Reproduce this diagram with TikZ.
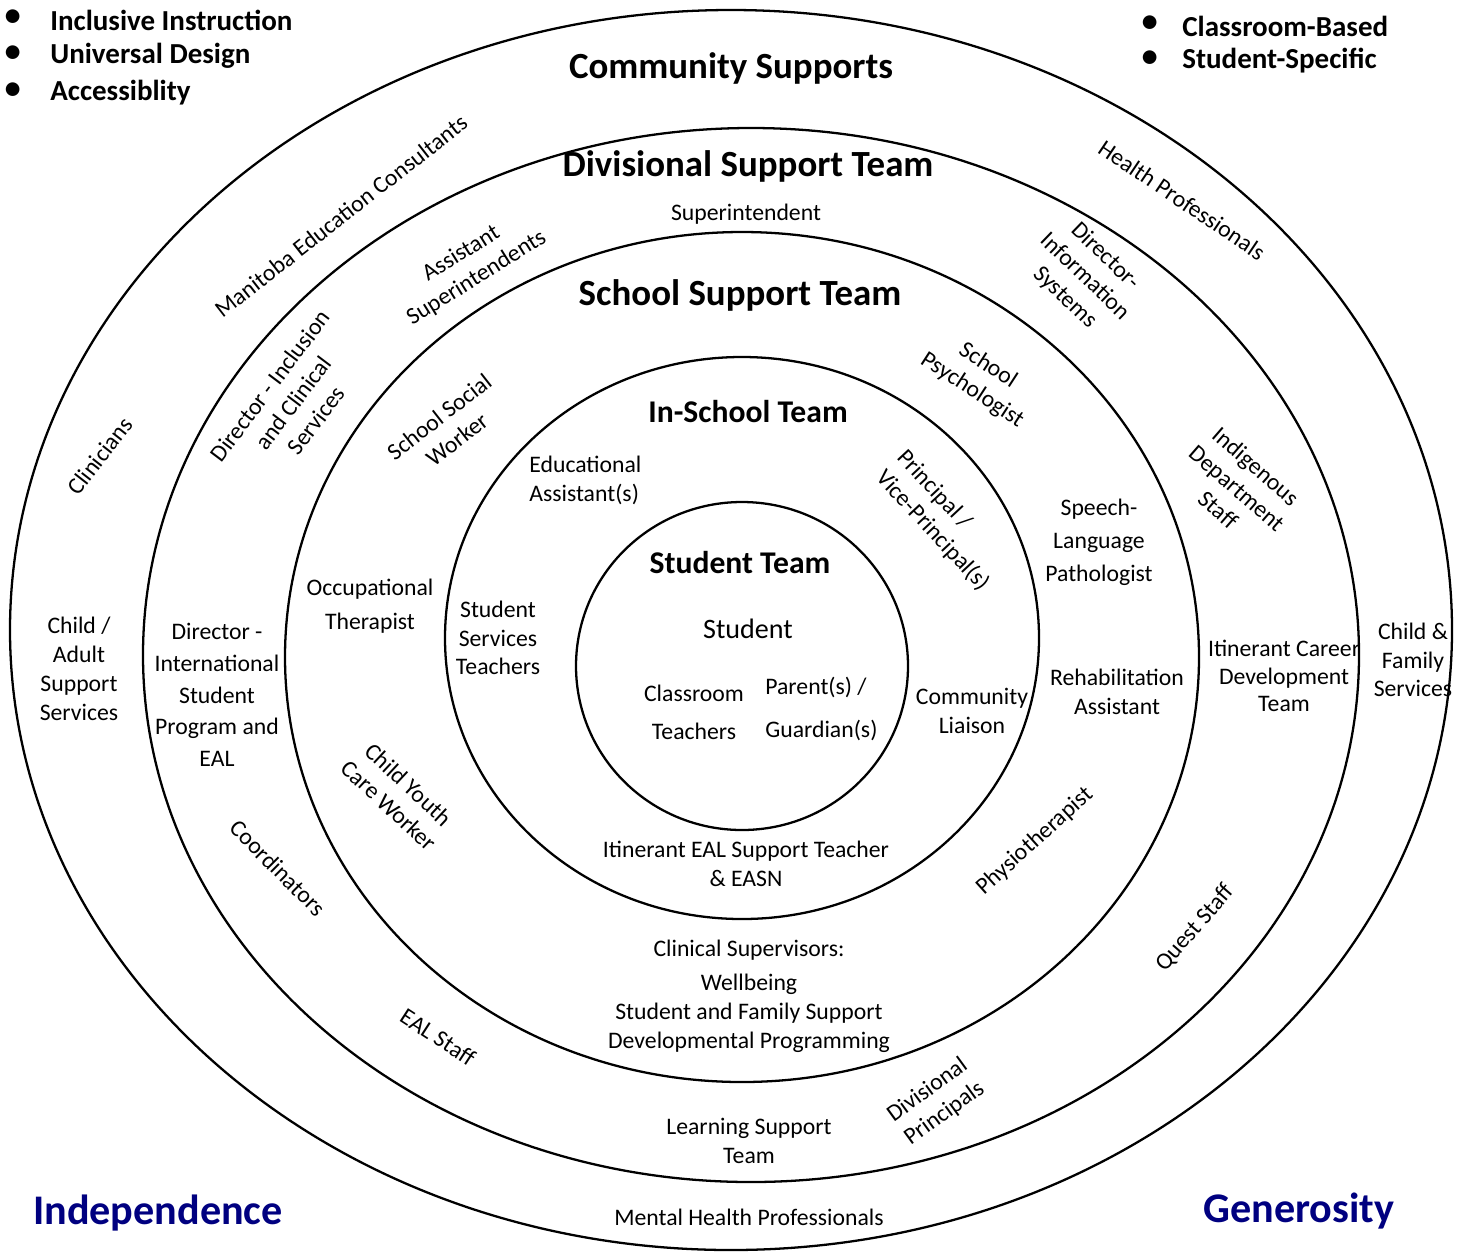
\documentclass[tikz,border=0pt]{standalone}
\usepackage{fontspec}
\setmainfont{Carlito}
\definecolor{valueblue}{RGB}{0,0,128}
\tikzset{
  ring/.style={line width=1.3pt},
  lbl/.style={align=center,inner sep=0pt,font=\fontsize{13.5}{16.4}\selectfont},
  bigtitle/.style={inner sep=0pt,font=\fontsize{21}{24}\selectfont\bfseries},
  smalltitle/.style={inner sep=0pt,font=\fontsize{18}{21}\selectfont\bfseries},
  bulletitem/.style={anchor=west,inner sep=0pt,font=\fontsize{16.5}{19}\selectfont\bfseries},
  bulletdot/.style={inner sep=0pt,font=\fontsize{22}{22}\selectfont},
  valuetext/.style={inner sep=0pt,text=valueblue,font=\fontsize{24}{28}\selectfont\bfseries}
}
\begin{document}
\begin{tikzpicture}[x=0.02cm,y=-0.02cm]
\useasboundingbox (0,0) rectangle (1463,1252);
% rings, outside in
\foreach \cx/\cy/\rx/\ry in {731/630/721/620,751/655/608/527,742/657/457/425,742/638/297/281,742/666/166/164}
  \draw[ring] (\cx,\cy) ellipse [x radius=\rx, y radius=\ry];
% bullet lists
\foreach \y/\t [count=\i] in {20/Inclusive Instruction,56/Universal Design,93/Accessiblity}{
  \node[bulletdot] (lb\i) at (13,\y-1) {\textbullet};
  \node[bulletitem] (lt\i) at (50,\y) {\t};}
\foreach \y/\t [count=\i] in {26/Classroom-Based,61/Student-Specific}{
  \node[bulletdot] (rb\i) at (1150,\y-1) {\textbullet};
  \node[bulletitem] (rt\i) at (1182,\y) {\t};}
% team titles
\node[bigtitle] (comm) at (731,68) {Community Supports};
\node[bigtitle] (divt) at (748,166) {Divisional Support Team};
\node[bigtitle] (scht) at (740,295) {School Support Team};
\node[smalltitle] (inst) at (748,412) {In-School Team};
\node[smalltitle] (stut) at (740,563) {Student Team};
% student team
\node[lbl,font=\fontsize{16}{19}\selectfont] (stu) at (748,629) {Student};
\node[lbl,font=\fontsize{13.5}{21.5}\selectfont] (cls) at (694,712) {Classroom\\Teachers};
\node[lbl,align=left,anchor=west,font=\fontsize{13.5}{24}\selectfont] (par) at (765,709) {Parent(s) /\\Guardian(s)};
% in-school team
\node[lbl,align=left,anchor=west] (eda) at (529,480) {Educational\\Assistant(s)};
\node[lbl] (sst) at (498,638) {Student\\Services\\Teachers};
\node[lbl,align=left,rotate=-47] (prn) at (943,521) {Principal /\\Vice-Principal(s)};
\node[lbl] (cml) at (972,711) {Community\\Liaison};
\node[lbl] (ieal) at (746,864) {Itinerant EAL Support Teacher\\\& EASN};
% school support team
\node[lbl,rotate=-33] (psy) at (980,378) {School\\Psychologist};
\node[lbl,font=\fontsize{13.5}{18.7}\selectfont] (slp) at (1099,542) {Speech-\\Language\\Pathologist};
\node[lbl] (reh) at (1117,692) {Rehabilitation\\Assistant};
\node[lbl,rotate=42] (phy) at (1035,841) {Physiotherapist};
\node[lbl,font=\fontsize{13.5}{19}\selectfont] (occ) at (370,606) {Occupational\\Therapist};
\node[lbl,rotate=38] (ssw) at (448,428) {School Social\\Worker};
\node[lbl,rotate=-43] (cyc) at (399,795) {Child Youth\\Care Worker};
\node[lbl] (clin) at (749,996) {Clinical Supervisors:\\[3pt]Wellbeing\\Student and Family Support\\Developmental Programming};
% divisional support team
\node[lbl] (sup) at (746,214) {Superintendent};
\node[lbl,rotate=32] (asup) at (469,266) {Assistant\\Superintendents};
\node[lbl,rotate=53] (dics) at (293,403) {Director - Inclusion\\and Clinical\\Services};
\node[lbl,rotate=-44] (dis) at (1085,277) {Director-\\Information\\Systems};
\node[lbl,rotate=-41] (ids) at (1237,488) {Indigenous\\Department\\Staff};
\node[lbl,font=\fontsize{13.5}{15.5}\selectfont] (icd) at (1284,676) {Itinerant Career\\Development\\Team};
\node[lbl,font=\fontsize{13.5}{18}\selectfont] (diis) at (217,695) {Director -\\International\\Student\\Program and\\EAL};
\node[lbl,rotate=-45] (crd) at (278,868) {Coordinators};
\node[lbl,rotate=-33] (eals) at (438,1037) {EAL Staff};
\node[lbl] (lst) at (749,1141) {Learning Support\\Team};
\node[lbl,rotate=36] (dpr) at (936,1102) {Divisional\\Principals};
% community supports
\node[lbl,rotate=38] (mec) at (341,216) {Manitoba Education Consultants};
\node[lbl,rotate=-34] (hp) at (1182,200) {Health Professionals};
\node[lbl,rotate=52] (cln) at (100,456) {Clinicians};
\node[lbl] (cass) at (79,669) {Child /\\Adult\\Support\\Services};
\node[lbl] (cfs) at (1413,660) {Child \&\\Family\\Services};
\node[lbl,rotate=49] (qst) at (1195,928) {Quest Staff};
\node[lbl] (mhp) at (749,1217) {Mental Health Professionals};
% values
\node[valuetext] (ind) at (158,1213) {Independence};
\node[valuetext] (gen) at (1299,1211) {Generosity};
\end{tikzpicture}
\end{document}
